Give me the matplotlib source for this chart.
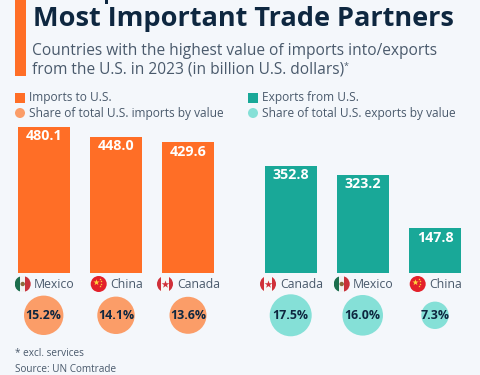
import matplotlib
matplotlib.use('Agg')
import matplotlib.pyplot as plt
from matplotlib.patches import Circle, Rectangle

# Data
import_countries = ['Mexico', 'China', 'Canada']
import_values = [480.1, 448.0, 429.6]
import_shares = [15.2, 14.1, 13.6]
export_countries = ['Canada', 'Mexico', 'China']
export_values = [352.8, 323.2, 147.8]
export_shares = [17.5, 16.0, 7.3]

BG = '#f4f7fb'
ORANGE = '#ff6e26'
ORANGE_L = '#fb9d68'
TEAL = '#19a898'
TEAL_L = '#85e0d7'
NAVY = '#0e2740'
GREY = '#4a5a6c'

plt.rcParams['font.family'] = ['Open Sans', 'DejaVu Sans']

fig = plt.figure(figsize=(4.8, 3.75), dpi=100, facecolor=BG)
# one pixel-space overlay for the header, flags and bubbles
px = fig.add_axes([0, 0, 1, 1])
px.set_xlim(0, 480)
px.set_ylim(375, 0)
px.axis('off')

px.add_patch(Rectangle((15, 0), 10.5, 75.5, color=ORANGE, lw=0))
# descender left over from the cropped title line above
px.add_patch(Rectangle((105, 0), 3, 4, color=NAVY, lw=0))
px.text(33, 19, 'Most Important Trade Partners', fontsize=19.5, fontweight='bold',
        color=NAVY, va='center')
px.text(32, 51, 'Countries with the highest value of imports into/exports', fontsize=11.2,
        color=GREY, va='center')
px.text(32, 70, 'from the U.S. in 2023 (in billion U.S. dollars)', fontsize=11.2,
        color=GREY, va='center')
px.text(344, 66, '*', fontsize=6.5, color=GREY, va='center')


def legend(x, col, col_l, name, share):
    px.add_patch(Rectangle((x, 93), 10, 10, color=col, lw=0))
    px.add_patch(Circle((x + 5, 113), 5, color=col_l, lw=0))
    px.text(x + 14, 98, name, fontsize=8.6, color=GREY, va='center')
    px.text(x + 14, 113, share, fontsize=8.6, color=GREY, va='center')


legend(15, ORANGE, ORANGE_L, 'Imports to U.S.', 'Share of total U.S. imports by value')
legend(248, TEAL, TEAL_L, 'Exports from U.S.', 'Share of total U.S. exports by value')


def flag(cx, cy, country):
    r = 8
    clip = Circle((cx, cy), r, transform=px.transData)
    if country == 'China':
        px.add_patch(Circle((cx, cy), r, color='#e3202a', lw=0))
        px.scatter([cx - 2.5], [cy - 2], s=22, marker='*', color='#ffd83d', lw=0)
        px.scatter([cx + 1, cx + 2.5, cx + 2.5, cx + 1], [cy - 5, cy - 3, cy - 0.5, cy + 1.5],
                   s=3, marker='*', color='#ffd83d', lw=0)
        return
    if country == 'Mexico':
        cols = ['#1c6e4d', '#f2f2f2', '#c8323a']
        widths = [5.33, 5.34, 5.33]
    else:
        cols = ['#d0303a', '#f7f7f7', '#d0303a']
        widths = [4, 8, 4]
    x = cx - r
    for c, w in zip(cols, widths):
        p = Rectangle((x, cy - r), w, 2 * r, color=c, lw=0)
        px.add_patch(p)
        p.set_clip_path(clip)
        x += w
    if country == 'Mexico':
        px.add_patch(Circle((cx, cy), 2.2, color='#8a6a3a', lw=0))
    else:
        px.scatter([cx], [cy], s=34, marker='*', color='#d0303a', lw=0)


def panel(left, values, countries, shares, col, col_l, flag_x, label_x, bubble_x, radii):
    ax = fig.add_axes([left / 480, 1 - 273.3 / 375, 196 / 480, 146.3 / 375])
    ax.set_xlim(0, 196)
    ax.set_ylim(0, 480.1)
    ax.axis('off')
    ax.bar([26, 98, 170], values, width=52, color=col)
    for i, v in enumerate(values):
        ax.text(26 + 72 * i, v - 31, f'{v:.1f}', ha='center', va='center', color='white',
                fontsize=10.3, fontweight='bold')
    for i in range(3):
        flag(flag_x[i], 284, countries[i])
        px.text(label_x[i], 284.5, countries[i], fontsize=8.8, color=GREY, va='center')
        px.add_patch(Circle((bubble_x[i], 315.3), radii[i], color=col_l, lw=0))
        px.text(bubble_x[i], 315.3, f'{shares[i]}%', fontsize=8.9, fontweight='bold',
                color=NAVY, ha='center', va='center')


panel(18, import_values, import_countries, import_shares, ORANGE, ORANGE_L,
      [22.7, 98.7, 165], [34, 110, 177], [43.7, 116, 188], [19.7, 18.7, 18.5])
panel(265, export_values, export_countries, export_shares, TEAL, TEAL_L,
      [268, 341.7, 417.7], [280, 353, 429], [290.7, 362.7, 435], [21, 20.3, 13.7])

px.text(15, 354, '* excl. services', fontsize=7.2, color=GREY, va='center')
px.text(15, 369, 'Source: UN Comtrade', fontsize=7.2, color=GREY, va='center')

plt.savefig('out.png', dpi=100, facecolor=BG)
